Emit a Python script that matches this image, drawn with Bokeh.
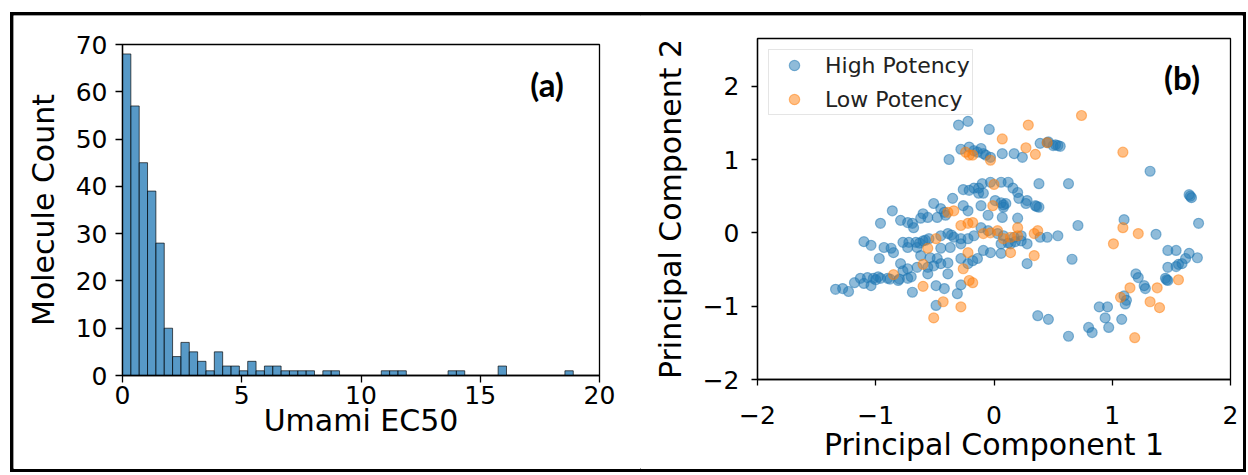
from bokeh.plotting import figure
from bokeh.models import FixedTicker, Label, ColumnDataSource
from bokeh.embed import file_html
from bokeh.resources import INLINE

# ---------------- data ----------------
# Histogram of Umami EC50 (54 bins of width 0.35 starting at 0)
hist_bin_start = 0.0
hist_bin_width = 0.35
hist_counts = [68, 57, 45, 39, 28, 10, 4, 7, 5, 3, 1, 5, 2, 2, 1, 3, 1, 2, 2, 1,
               1, 1, 1, 0, 1, 1, 0, 0, 0, 0, 0, 1, 1, 1, 0, 0, 0, 0, 0, 1,
               1, 0, 0, 0, 0, 2, 0, 0, 0, 0, 0, 0, 0, 1]
hist_xticks = [0, 5, 10, 15, 20]
hist_yticks = [0, 10, 20, 30, 40, 50, 60, 70]

# PCA scatter
high_pc1 = [-0.30, -0.22, -0.04, -0.38, -0.28, -0.21, -0.17, -0.11, -0.09, 0.07,
            0.17, 0.24, 0.39, 0.45, 0.50, 0.54, 0.56, 0.38, 0.63, 1.32,
            1.65, 1.67, -0.03, -0.14, -0.07,
            -0.10, -0.03, 0.06, 0.12, 0.16, 0.20, 0.21, 0.28, -0.13, -0.09,
            -0.11, 0.01, 0.06, 0.10, 0.08, 0.35, 0.38, 0.27, -0.05, 0.07,
            0.20, -0.26, -0.21, -0.17, -0.13, -0.35, -0.51, -0.45, -0.42, -0.60,
            -0.86, -0.26, -0.22, -0.96, -0.79, -0.73, -0.69, -0.68, -0.41, 0.71,
            1.10, 1.73, 1.37, -0.62, -0.56, -0.48,
            -1.10, -1.04, -0.93, -0.87, -0.85, -0.77, -0.72, -0.66, -0.60, -0.55,
            -0.45, -0.39, -0.34, -0.28, -0.22, -0.17, -0.73, -0.65, -0.45, -0.37,
            -0.28, -0.97, -0.79, -0.73, -0.77, -0.62, -0.54, -0.48, -0.45, -0.39,
            -0.51, -0.28, -0.22, -0.18, -0.14, -0.09, -0.03, 0.06, 0.06, 0.14,
            0.23, 0.28, 0.39, 0.45, 0.54, -0.11, -0.05, 0.03, 0.08, 0.17,
            0.23, 0.28, 0.66, -0.65, -0.56, -0.39, -0.56,
            -1.13, -1.07, -1.02, -0.96, -0.90, -1.10, -1.04, -0.73, -0.81, -1.18,
            -1.28, -1.34, -1.23, -0.69, -0.49, -0.42, -0.49, -0.28, -0.31,
            0.37, 0.46, 0.63, 0.80, 0.83, 0.89, 0.96, 0.94, 0.97, 1.08,
            1.10, 1.11, 1.20, 1.22, 1.27, 1.28, 1.47, 1.54, 1.47, 1.54,
            1.56, 1.59, 1.45, 1.47, 1.65, 1.72, 1.62,
            1.66, 0.46, 0.52, -0.98, -1.00, -0.88, 0.08, 0.36, 1.46, -0.63,
            -0.58, -0.36, 0.12, 0.18, -0.80, -0.70, 1.12]
high_pc2 = [1.47, 1.52, 1.41, 1.00, 1.14, 1.17, 1.12, 1.15, 1.08, 1.08,
            1.08, 1.03, 1.22, 1.23, 1.19, 1.19, 1.18, 0.67, 0.67, 0.84,
            0.52, 0.48, 1.03, 1.10, 1.06,
            0.67, 0.69, 0.69, 0.69, 0.61, 0.55, 0.47, 0.44, 0.61, 0.54,
            0.37, 0.44, 0.41, 0.40, 0.35, 0.37, 0.35, 0.40, 0.24, 0.21,
            0.20, 0.59, 0.58, 0.61, 0.54, 0.47, 0.40, 0.33, 0.28, 0.26,
            0.30, 0.37, 0.30, 0.13, 0.17, 0.14, 0.13, 0.07, 0.24, 0.10,
            0.18, 0.13, -0.02, 0.20, 0.21, 0.21,
            -0.12, -0.17, -0.20, -0.21, -0.27, -0.13, -0.13, -0.13, -0.11, -0.08,
            -0.04, -0.01, -0.06, -0.08, -0.08, -0.04, -0.20, -0.20, -0.21, -0.20,
            -0.15, -0.35, -0.42, -0.49, -0.52, -0.31, -0.34, -0.35, -0.42, -0.41,
            -0.45, -0.35, -0.42, -0.38, -0.35, -0.24, -0.27, -0.28, -0.15, -0.15,
            -0.11, -0.15, -0.06, -0.06, -0.04, 0.07, 0.03, -0.01, -0.04, -0.06,
            -0.04, -0.42, -0.36, -0.47, -0.47, -0.56, -0.56,
            -0.62, -0.61, -0.62, -0.62, -0.62, -0.69, -0.72, -0.62, -0.65, -0.68,
            -0.76, -0.77, -0.80, -0.81, -0.72, -0.76, -0.99, -0.71, -0.83,
            -1.13, -1.18, -1.41, -1.29, -1.36, -1.01, -1.01, -1.16, -1.29, -1.18,
            -0.86, -0.97, -0.56, -0.61, -0.72, -0.76, -0.24, -0.24, -0.47, -0.46,
            -0.43, -0.42, -0.62, -0.65, -0.28, -0.34, -0.35,
            0.50, 1.24, 1.20, -0.60, -0.64, -0.63, 0.38, 0.36, -0.64, -0.14,
            -0.10, -0.03, -0.14, -0.12, -0.63, -0.60, -0.92]
low_pc1 = [0.74, 0.29, 0.07, 0.27, 0.35, 0.45, -0.24, -0.21, -0.18, -0.03,
           1.09, 0.00, -0.01, -0.39, -0.34, -0.28, -0.22, -0.18, -0.49, -0.56,
           -0.60, -0.85, -0.60, -0.43, -0.51, -0.28, -0.26, -0.22, -0.21, -0.18,
           0.14, 0.34, 1.01, 1.09, 1.22, 1.15, 1.07, 1.38, 1.32, 1.40,
           1.56, 1.19, -0.09, -0.03, 0.03, 0.08, 0.14, 0.20, 0.34, 0.37,
           0.20]
low_pc2 = [1.60, 1.47, 1.28, 1.16, 1.07, 1.23, 1.10, 1.06, 1.06, 0.99,
           1.10, 0.66, 0.37, 0.28, 0.30, 0.10, 0.13, 0.14, -0.08, -0.21,
           -0.43, -0.57, -0.73, -0.94, -1.16, -1.01, -0.49, -0.27, -0.65, -0.68,
           -0.27, -0.31, -0.15, 0.07, -0.01, -0.75, -0.88, -0.75, -0.94, -1.02,
           -0.64, -1.43, -0.01, 0.00, 0.03, -0.08, -0.06, -0.04, -0.01, 0.03,
           0.07]
pca_ticks = [-2, -1, 0, 1, 2]
pca_tick_labels = ["\u22122", "\u22121", "0", "1", "2"]
series_names = ["High Potency", "Low Potency"]

# ---------------- style helpers ----------------
FONT = "DejaVu Sans"
BLUE = "#1f77b4"
ORANGE = "#ff7f0e"


def style_axes(p, tick_out, x_standoff, y_standoff, xlab_standoff, ylab_standoff):
    p.outline_line_color = "black"
    p.outline_line_width = 1.3
    p.xgrid.visible = False
    p.ygrid.visible = False
    for ax in (p.xaxis[0], p.yaxis[0]):
        ax.axis_line_color = "black"
        ax.axis_line_width = 1.3
        ax.major_tick_line_color = "black"
        ax.major_tick_line_width = 1.3
        ax.major_tick_in = 0
        ax.major_tick_out = tick_out
        ax.minor_tick_line_color = None
        ax.major_label_text_font = FONT
        ax.major_label_text_font_size = "25px"
        ax.major_label_text_color = "black"
        ax.axis_label_text_font = FONT
        ax.axis_label_text_font_size = "30px"
        ax.axis_label_text_font_style = "normal"
        ax.axis_label_text_color = "black"
    p.xaxis[0].major_label_standoff = x_standoff
    p.yaxis[0].major_label_standoff = y_standoff
    p.xaxis[0].axis_label_standoff = xlab_standoff
    p.yaxis[0].axis_label_standoff = ylab_standoff


# ---------------- outer frame (background canvas with thick outline) ----------------
bg = figure(width=1236, height=460, min_border=0, x_range=(0, 1), y_range=(0, 1),
            x_axis_type=None, y_axis_type=None, title_location=None,
            output_backend="svg", toolbar_location=None,
            styles={"position": "absolute", "left": "10px", "top": "12px"})
bg.xgrid.visible = False
bg.ygrid.visible = False
bg.outline_line_color = "black"
bg.outline_line_width = 6

# ---------------- panel (a): histogram ----------------
p1 = figure(frame_width=477, frame_height=331,
            min_border_left=109, min_border_right=41,
            min_border_top=29, min_border_bottom=94,
            x_range=(0, 20), y_range=(0, 70), title_location=None,
            output_backend="svg", toolbar_location=None,
            x_axis_label="Umami EC50", y_axis_label="Molecule Count",
            styles={"position": "absolute", "left": "13px", "top": "15px"})
lefts = [hist_bin_start + i * hist_bin_width for i in range(len(hist_counts))]
rights = [l + hist_bin_width for l in lefts]
p1.quad(left=lefts, right=rights, top=hist_counts, bottom=0,
        fill_color=BLUE, fill_alpha=0.75, line_color="black",
        line_alpha=0.65, line_width=1)
p1.xaxis.ticker = FixedTicker(ticks=hist_xticks)
p1.yaxis.ticker = FixedTicker(ticks=hist_yticks)
style_axes(p1, 7, 3, 8, -4, 12)
p1.add_layout(Label(x=17.8, y=61.7, text="(a)", text_font="Lato",
                    text_font_style="bold", text_font_size="33px",
                    text_color="black",
                    text_align="center", text_baseline="middle"))

# ---------------- panel (b): PCA scatter ----------------
p2 = figure(frame_width=473, frame_height=341,
            min_border_left=117, min_border_right=13,
            min_border_top=23, min_border_bottom=90,
            x_range=(-2, 2), y_range=(-2, 2.65), title_location=None,
            output_backend="svg", toolbar_location=None,
            x_axis_label="Principal Component 1",
            y_axis_label="Principal Component 2",
            styles={"position": "absolute", "left": "640px", "top": "15px"})
src_hi = ColumnDataSource(dict(x=high_pc1, y=high_pc2))
src_lo = ColumnDataSource(dict(x=low_pc1, y=low_pc2))
p2.scatter("x", "y", source=src_hi, size=10, fill_color=BLUE, fill_alpha=0.5,
           line_color=BLUE, line_alpha=0.5, line_width=1.2,
           legend_label=series_names[0])
p2.scatter("x", "y", source=src_lo, size=10, fill_color=ORANGE, fill_alpha=0.5,
           line_color=ORANGE, line_alpha=0.5, line_width=1.2,
           legend_label=series_names[1])
p2.xaxis.ticker = FixedTicker(ticks=pca_ticks)
p2.yaxis.ticker = FixedTicker(ticks=pca_ticks)
p2.xaxis.major_label_overrides = dict(zip(pca_ticks, pca_tick_labels))
p2.yaxis.major_label_overrides = dict(zip(pca_ticks, pca_tick_labels))
style_axes(p2, 6, 20, 12, 0, 12)
lg = p2.legend[0]
lg.location = "top_left"
lg.margin = 11
lg.padding = 2
lg.spacing = 8
lg.label_height = 26
lg.glyph_height = 26
lg.glyph_width = 46
lg.label_standoff = 8
lg.label_text_font = FONT
lg.label_text_font_size = "22px"
lg.label_text_color = "#222222"
lg.border_line_color = "#cccccc"
lg.border_line_width = 1.3
lg.background_fill_alpha = 0.8
p2.add_layout(Label(x=1.59, y=2.12, text="(b)", text_font="Lato",
                    text_font_style="bold", text_font_size="33px",
                    text_color="black",
                    text_align="center", text_baseline="middle"))

open("out.html", "w").write(file_html([bg, p1, p2], INLINE))
